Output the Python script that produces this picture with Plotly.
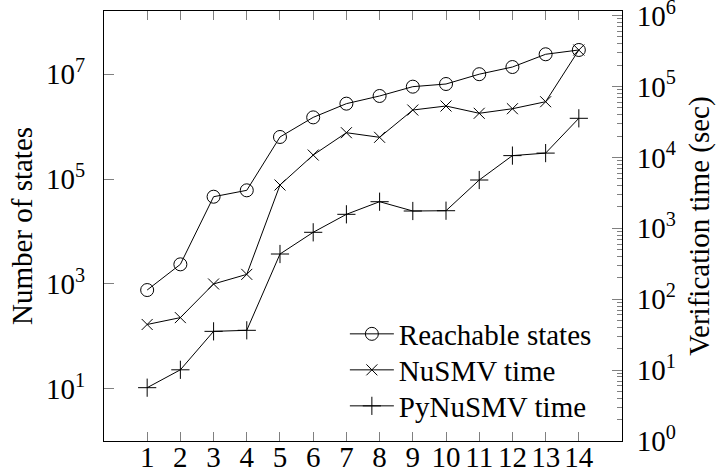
import plotly.graph_objects as go

# ---- data ----
x_vals = list(range(1, 15))
reachable_states = [760, 2350, 45900, 60800, 634000, 1.5e6, 2.74e6, 3.84e6,
                    5.78e6, 6.5e6, 1.0e7, 1.37e7, 2.4e7, 2.9e7]
nusmv_time = [44, 55, 164, 224, 4080, 10800, 22300, 19200,
              46600, 53100, 41900, 48600, 61000, 327000]
pynusmv_time = [5.65, 10.1, 35.2, 36.4, 434, 878, 1575, 2373,
                1754, 1771, 4800, 10600, 11500, 35600]

series_names = ["Reachable states", "NuSMV time", "PyNuSMV time"]

left_tickvals = [1e1, 1e3, 1e5, 1e7]
left_ticktext = ["10<sup>1</sup>", "10<sup>3</sup>", "10<sup>5</sup>", "10<sup>7</sup>"]
right_tickvals = [1e0, 1e1, 1e2, 1e3, 1e4, 1e5, 1e6]
right_ticktext = ["10<sup>0</sup>", "10<sup>1</sup>", "10<sup>2</sup>", "10<sup>3</sup>",
                  "10<sup>4</sup>", "10<sup>5</sup>", "10<sup>6</sup>"]
right_minor = [m * 10 ** k for k in range(0, 6) for m in range(2, 10)]

FONT = "Liberation Serif, Times New Roman, serif"
FS = 29
TICKC = "#808080"

fig = go.Figure()
fig.add_trace(go.Scatter(
    x=x_vals, y=reachable_states, name=series_names[0], mode="lines+markers",
    line=dict(color="black", width=1),
    marker=dict(symbol="circle-open", size=13, color="black", line=dict(width=1)),
    yaxis="y", legend="legend"))
fig.add_trace(go.Scatter(
    x=x_vals, y=nusmv_time, name=series_names[1], mode="lines+markers",
    line=dict(color="black", width=1),
    marker=dict(symbol="x-thin-open", size=11, color="black", line=dict(width=1, color="black")),
    yaxis="y2", legend="legend2"))
fig.add_trace(go.Scatter(
    x=x_vals, y=pynusmv_time, name=series_names[2], mode="lines+markers",
    line=dict(color="black", width=1),
    marker=dict(symbol="cross-thin-open", size=13, color="black", line=dict(width=1, color="black")),
    yaxis="y2", legend="legend3"))

def leg(ypos):
    return dict(x=0.465, xanchor="left", y=ypos, yanchor="middle",
                bgcolor="rgba(0,0,0,0)", borderwidth=0, itemwidth=44,
                font=dict(family=FONT, size=FS, color="black"))

fig.update_layout(
    width=716, height=475,
    margin=dict(l=103.5, r=94.3, t=11, b=34),
    paper_bgcolor="white", plot_bgcolor="white",
    font=dict(family=FONT, size=FS, color="black"),
    showlegend=True,
    legend=leg((441 - 334) / 430),
    legend2=leg((441 - 370) / 430),
    legend3=leg((441 - 406) / 430),
    xaxis=dict(range=[-0.3, 15.3], tickmode="array", tickvals=x_vals,
               ticktext=[str(v) for v in x_vals], automargin=False,
               showgrid=False, zeroline=False, showline=True, linecolor="black",
               linewidth=1, mirror="ticks", ticks="inside", ticklen=9,
               tickcolor=TICKC, tickwidth=1, ticklabelstandoff=-10,
               ticklabeloverflow="allow",
               tickfont=dict(family=FONT, size=FS)),
    yaxis=dict(type="log", range=[0, 8.206], tickmode="array",
               tickvals=left_tickvals, ticktext=left_ticktext, automargin=False,
               showgrid=False, zeroline=False, showline=True, linecolor="black",
               linewidth=1, ticks="inside", ticklen=10, tickcolor=TICKC,
               tickwidth=1, ticklabelstandoff=12, ticklabeloverflow="allow",
               title=dict(text="Number of states", standoff=4,
                          font=dict(family=FONT, size=FS)),
               tickfont=dict(family=FONT, size=FS)),
    yaxis2=dict(type="log", range=[0, 6.065], overlaying="y", side="right",
                tickmode="array", tickvals=right_tickvals, ticktext=right_ticktext,
                automargin=False,
                showgrid=False, zeroline=False, showline=True, linecolor="black",
                linewidth=1, ticks="inside", ticklen=10, tickcolor=TICKC,
                tickwidth=1, ticklabelstandoff=8, ticklabeloverflow="allow",
                minor=dict(tickmode="array", tickvals=right_minor, ticks="inside",
                           ticklen=5, tickcolor=TICKC, tickwidth=1, showgrid=False),
                title=dict(text="Verification time (sec)", standoff=22,
                           font=dict(family=FONT, size=FS)),
                tickfont=dict(family=FONT, size=FS)),
)

fig.write_html("out.html", config={"displayModeBar": False},
               post_script="document.body.style.margin='0';")
